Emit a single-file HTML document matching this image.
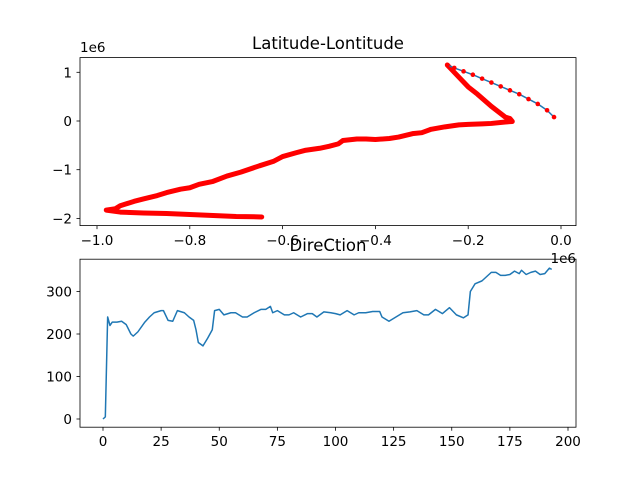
<!DOCTYPE html>
<html><head><meta charset="utf-8"><style>
body{margin:0;background:#fff}
svg text{font-family:"DejaVu Sans","Liberation Sans",sans-serif;font-size:13.5px;fill:#000}
</style></head><body>
<svg id="fig" width="640" height="480" xmlns="http://www.w3.org/2000/svg">
<rect width="640" height="480" fill="#fff"/>
<g id="top"></g>
<g id="bot"></g>
</svg>
<script>
const lon=[-0.645,-0.70,-0.75,-0.80,-0.85,-0.90,-0.95,-0.98,-0.96,-0.95,-0.92,-0.90,-0.87,-0.85,-0.82,-0.80,-0.78,-0.75,-0.72,-0.69,-0.65,-0.62,-0.60,-0.57,-0.55,-0.52,-0.50,-0.48,-0.47,-0.44,-0.42,-0.40,-0.37,-0.35,-0.32,-0.30,-0.28,-0.25,-0.22,-0.20,-0.17,-0.15,-0.12,-0.105,-0.11,-0.12,-0.15,-0.18,-0.20,-0.22,-0.24,-0.245];
const lat=[-1.97,-1.96,-1.94,-1.92,-1.90,-1.89,-1.87,-1.83,-1.80,-1.74,-1.65,-1.60,-1.53,-1.47,-1.40,-1.37,-1.30,-1.24,-1.13,-1.05,-0.92,-0.83,-0.73,-0.65,-0.60,-0.56,-0.52,-0.47,-0.40,-0.37,-0.37,-0.38,-0.36,-0.33,-0.26,-0.24,-0.17,-0.12,-0.08,-0.07,-0.06,-0.05,-0.02,-0.01,0.05,0.08,0.30,0.55,0.70,0.90,1.10,1.15];
const lonRet=[-0.245,-0.23,-0.21,-0.19,-0.17,-0.15,-0.13,-0.11,-0.09,-0.07,-0.05,-0.03,-0.015];
const latRet=[1.15,1.09,1.02,0.95,0.87,0.79,0.71,0.63,0.55,0.45,0.35,0.22,0.08];
const topXTicks=[-1.0,-0.8,-0.6,-0.4,-0.2,0.0];
const topXLabels=["\u22121.0","\u22120.8","\u22120.6","\u22120.4","\u22120.2","0.0"];
const topYTicks=[1,0,-1,-2];
const topYLabels=["1","0","\u22121","\u22122"];
const dirX=[0,1,2,3,4,6,8,10,12,13,15,18,20,22,25,26,28,30,32,35,37,39,40,41,43,45,47,48,50,52,55,57,60,62,65,68,70,72,73,75,78,80,82,85,88,90,92,95,98,100,102,105,108,110,113,116,119,120,123,126,129,132,135,138,140,143,146,149,152,155,157,158,160,163,165,167,169,171,173,175,177,179,180,182,184,186,188,190,192,193];
const dirY=[0,5,240,220,228,228,230,222,200,195,205,228,240,250,255,255,232,230,255,250,240,232,210,180,172,190,210,255,258,245,250,250,240,240,250,258,258,265,250,255,245,245,250,240,248,248,240,252,250,248,245,255,245,250,250,253,253,240,230,240,250,252,255,245,245,258,248,262,245,238,245,300,318,325,335,345,345,338,338,340,348,342,350,340,345,348,340,342,355,352];
const botXTicks=[0,25,50,75,100,125,150,175,200];
const botYTicks=[0,100,200,300];
const NS="http://www.w3.org/2000/svg";
function mk(p,t,a){const e=document.createElementNS(NS,t);for(const k in a)e.setAttribute(k,a[k]);p.appendChild(e);return e;}
const T=document.getElementById('top'),B=document.getElementById('bot');
const tx=v=>561+464*v, ty=v=>121-48.7*v;
const bx=v=>103+2.325*v, by=v=>419-0.425*v;
let pts=lon.map((v,i)=>tx(v)+','+ty(lat[i])).join(' ');
let rp=lonRet.map((v,i)=>tx(v)+','+ty(latRet[i])).join(' ');
let l1=mk(T,'polyline',{points:pts,fill:'none',stroke:'#1f77b4','stroke-width':1.5});


let l2=mk(T,'polyline',{points:pts,fill:'none',stroke:'#ff0000','stroke-width':5,'stroke-linejoin':'round','stroke-linecap':'round'});


let l3=mk(T,'polyline',{points:rp,fill:'none',stroke:'#1f77b4','stroke-width':1.5});


lonRet.forEach((v,i)=>{const c=mk(T,'circle',{cx:tx(v),cy:ty(latRet[i]),r:2.3,fill:'#ff0000'});

});
mk(T,'rect',{x:80,y:57.6,width:496,height:168,fill:'none',stroke:'#000','stroke-width':0.8});
topXTicks.forEach((v,i)=>{mk(T,'line',{x1:tx(v),x2:tx(v),y1:225.6,y2:229.1,stroke:'#000','stroke-width':0.8});
const t=mk(T,'text',{x:tx(v),y:245,'text-anchor':'middle'});t.textContent=topXLabels[i];
});
topYTicks.forEach((v,i)=>{mk(T,'line',{x1:76.5,x2:80,y1:ty(v),y2:ty(v),stroke:'#000','stroke-width':0.8});
const t=mk(T,'text',{x:72,y:ty(v)+5,'text-anchor':'end'});t.textContent=topYLabels[i];
});
let e=mk(T,'text',{x:80,y:52});e.textContent='1e6';
e=mk(T,'text',{x:328,y:49,'text-anchor':'middle',style:'font-size:16.5px'});e.textContent='Latitude-Lontitude';

e=mk(T,'text',{x:576,y:263,'text-anchor':'end'});e.textContent='1e6';
let bl=mk(B,'polyline',{points:dirX.map((v,i)=>bx(v)+','+by(dirY[i])).join(' '),fill:'none',stroke:'#1f77b4','stroke-width':1.5,'stroke-linejoin':'round'});


mk(B,'rect',{x:80,y:259.2,width:496,height:168,fill:'none',stroke:'#000','stroke-width':0.8});
botXTicks.forEach(v=>{mk(B,'line',{x1:bx(v),x2:bx(v),y1:427.2,y2:430.7,stroke:'#000','stroke-width':0.8});
const t=mk(B,'text',{x:bx(v),y:446,'text-anchor':'middle'});t.textContent=v;
});
botYTicks.forEach(v=>{mk(B,'line',{x1:76.5,x2:80,y1:by(v),y2:by(v),stroke:'#000','stroke-width':0.8});
const t=mk(B,'text',{x:72,y:by(v)+5,'text-anchor':'end'});t.textContent=v;
});
e=mk(B,'text',{x:328,y:251,'text-anchor':'middle',style:'font-size:16.5px'});e.textContent='DireCtion';

</script>
</body></html>
